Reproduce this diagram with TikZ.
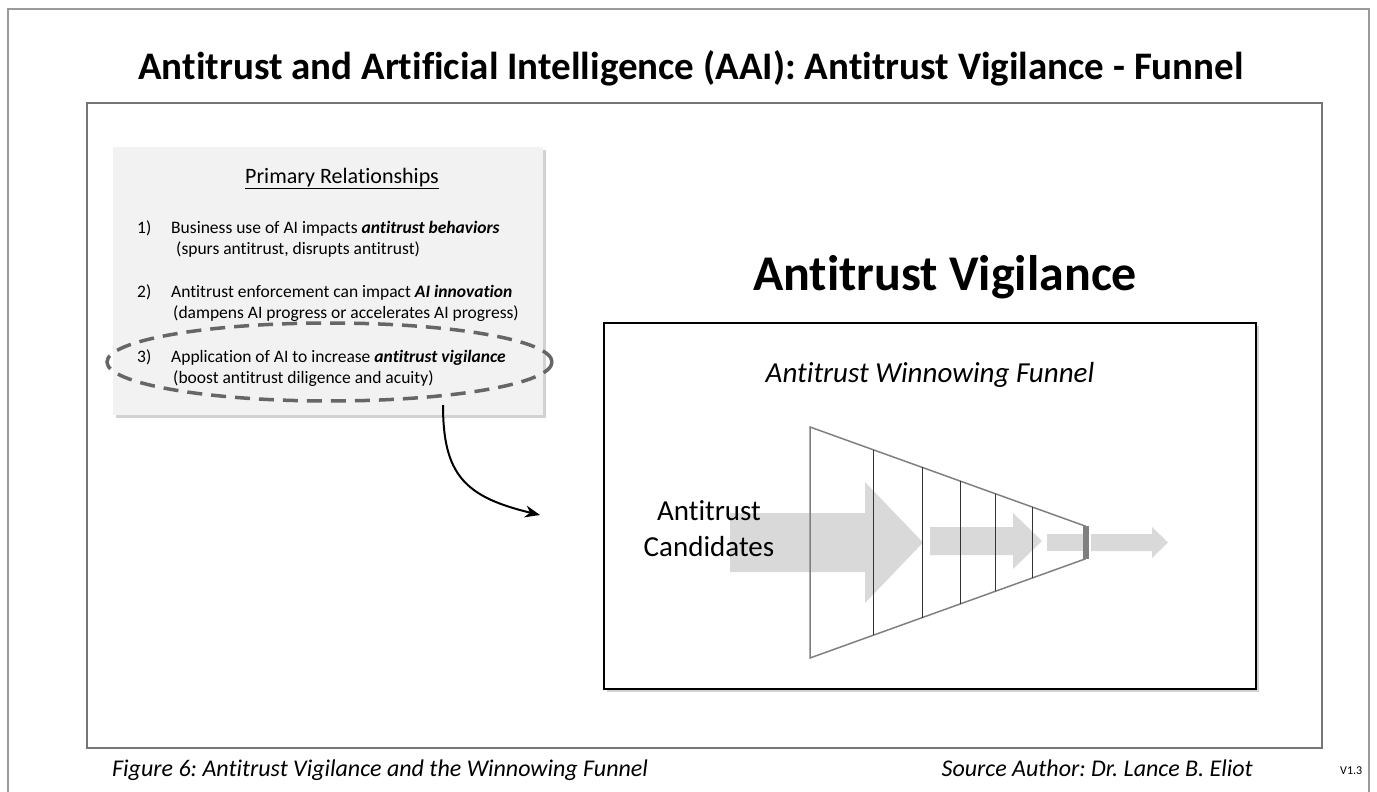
\documentclass[tikz,border=0pt]{standalone}
\usepackage{fontspec}
\setmainfont{Carlito}[Ligatures=NoCommon]
\frenchspacing
\usetikzlibrary{shapes.geometric,arrows.meta,shadows}
\definecolor{boxgray}{HTML}{F2F2F2}
\definecolor{arrgray}{HTML}{D9D9D9}
\definecolor{dashgray}{HTML}{666666}
\definecolor{framegray}{HTML}{9A9A9A}
\definecolor{innergray}{HTML}{767676}
\definecolor{funnelgray}{HTML}{808080}
\newcommand{\myfs}[1]{\fontsize{#1}{#1}\selectfont}
\begin{document}
\frenchspacing
\begin{tikzpicture}[x=1pt,y=-1pt,
  txt/.style={inner sep=0pt, anchor=base west, font=\myfs{17.5}},
  ctxt/.style={inner sep=0pt, anchor=base},
  shade/.style={drop shadow={opacity=0.35, shadow xshift=3pt, shadow yshift=-3pt}},
  bigarrow/.style={fill=arrgray},
  divider/.style={draw=black!80, line width=1pt}]
\useasboundingbox (0,0) rectangle (1377,792);
\fill[white] (0,0) rectangle (1377,792);
% frames
\draw[framegray, line width=1.5pt] (8,800) -- (8,9) -- (1369,9) -- (1369,800);
\draw[innergray, line width=1.5pt] (87,103) rectangle (1322,748);
% title
\node[ctxt] (title) at (691,80) {\myfs{39}\bfseries Antitrust and Artificial Intelligence (AAI): Antitrust Vigilance - Funnel};
% left box
\node[fill=boxgray, shade, minimum width=430, minimum height=268, inner sep=0] (lbox) at (328,281) {};
\node[ctxt] (hdr) at (342,183) {\myfs{22}\underline{Primary Relationships}};
\node[txt] (n1) at (137,233) {1)};
\node[txt] (t1) at (171,233) {Business use of AI impacts \textbf{\textit{antitrust behaviors}}};
\node[txt] (s1) at (176,254) {(spurs antitrust, disrupts antitrust)};
\node[txt] (n2) at (137,297) {2)};
\node[txt] (t2) at (171,297) {Antitrust enforcement can impact \textbf{\textit{AI innovation}}};
\node[txt] (s2) at (173,318) {(dampens AI progress or accelerates AI progress)};
\node[txt] (n3) at (137,362) {3)};
\node[txt] (t3) at (171,362) {Application of AI to increase \textbf{\textit{antitrust vigilance}}};
\node[txt] (s3) at (173,383) {(boost antitrust diligence and acuity)};
\node[draw=dashgray, line width=3.5pt, dash pattern=on 15pt off 9pt, ellipse, minimum width=445, minimum height=78, inner sep=0] (hl) at (329.5,362) {};
% connector
\coordinate (arrS) at (443,405);
\coordinate (arrE) at (540,515);
\draw[line width=2pt, -{Stealth[length=15pt,width=12pt]}] (arrS) .. controls (443,475) and (465,497) .. (arrE);
% big heading
\node[ctxt] (vig) at (945,290) {\myfs{50}\bfseries Antitrust Vigilance};
% right box
\node[draw=black, line width=1.5pt, fill=white, shade, minimum width=652, minimum height=366, inner sep=0] (rbox) at (930,506) {};
\node[ctxt] (wf) at (930,382) {\myfs{29}\itshape Antitrust Winnowing Funnel};
% arrows
\fill[bigarrow] (730,513) -- (865,513) -- (865,482) -- (923,542.5) -- (865,603) -- (865,572) -- (730,572) -- cycle;
\fill[bigarrow] (930,527) -- (1013,527) -- (1013,513) -- (1042,541) -- (1013,569) -- (1013,555) -- (930,555) -- cycle;
\fill[bigarrow] (1047,534) rectangle (1084,551);
\fill[bigarrow] (1091,534) -- (1152,534) -- (1152,527) -- (1168,542.5) -- (1152,558) -- (1152,551) -- (1091,551) -- cycle;
% funnel
\draw[funnelgray, line width=1.5pt, line join=miter] (810,427) -- (1085,526) -- (1085,559) -- (810,658) -- cycle;
\foreach \xx in {873,922,960,995,1032} {
  \pgfmathsetmacro{\dy}{(\xx-810)*0.36}
  \draw[divider] (\xx,427+\dy) -- (\xx,658-\dy);
}
\fill[funnelgray] (1083,526) rectangle (1089,559);
% candidates
\node[ctxt] (c1) at (709,520) {\myfs{29}Antitrust};
\node[ctxt] (c2) at (709,556) {\myfs{29}Candidates};
% footer
\node[txt] (fig) at (112,776) {\myfs{24}\itshape Figure 6: Antitrust Vigilance and the Winnowing Funnel};
\node[inner sep=0, anchor=base east] (src) at (1253,776) {\myfs{24}\itshape Source Author: Dr. Lance B. Eliot};
\node[inner sep=0, anchor=base west] (ver) at (1340,774) {\myfs{12}V1.3};
\end{tikzpicture}
\end{document}
